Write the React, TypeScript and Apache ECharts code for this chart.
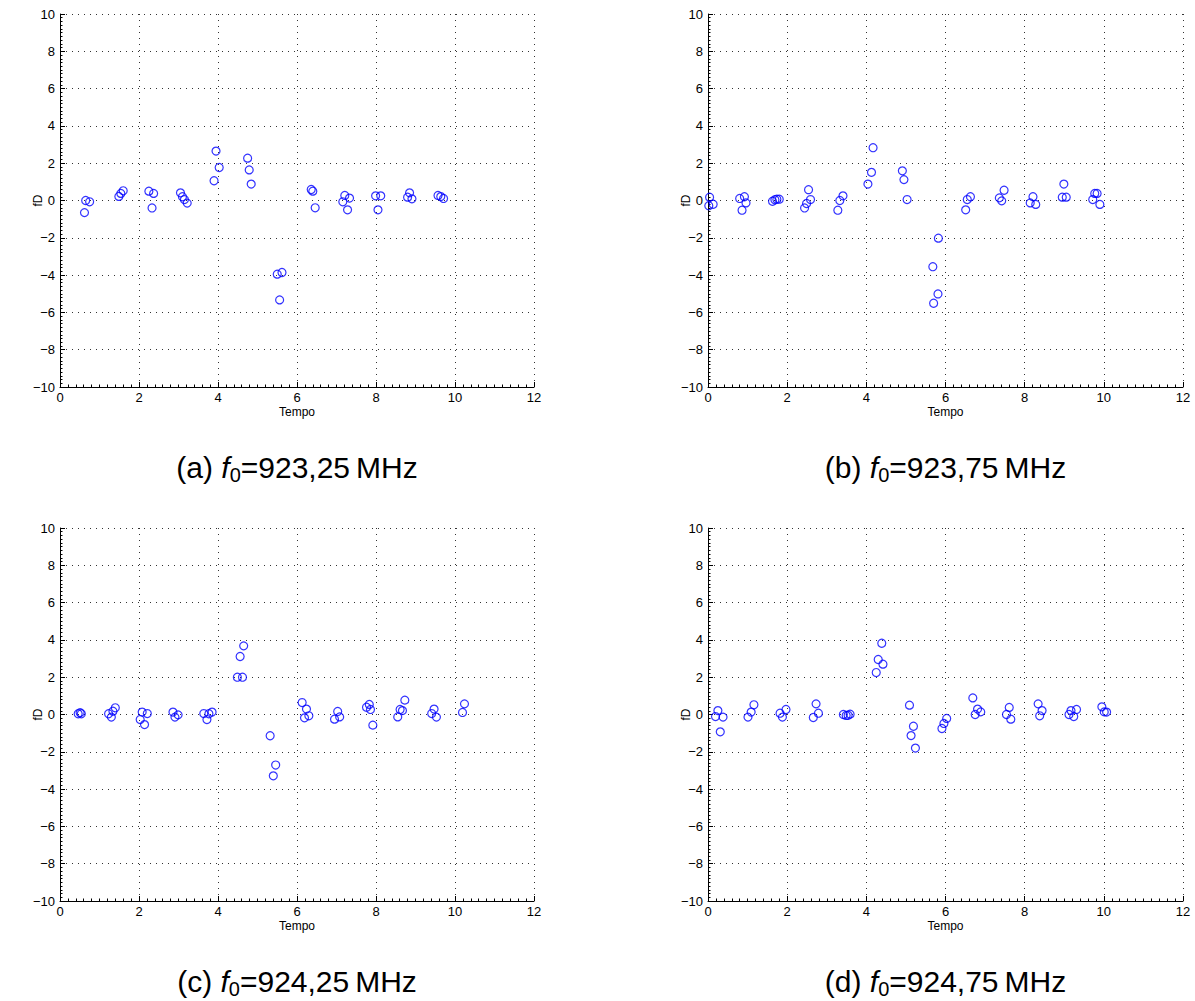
import React, { useEffect, useRef } from "react";
import * as echarts from "echarts";

// Panel (a) f0 = 923,25 MHz
const tempoA = [0.62, 0.65, 0.75, 1.49, 1.54, 1.6, 2.25, 2.37, 2.33, 3.05, 3.1, 3.15, 3.22, 3.9, 3.95, 4.03, 4.75, 4.79, 4.84, 5.5, 5.62, 5.56, 6.36, 6.4, 6.46, 7.21, 7.33, 7.16, 7.28, 7.99, 8.12, 8.05, 8.85, 8.8, 8.91, 9.57, 9.64, 9.71];
const fdA = [-0.65, 0.0, -0.07, 0.22, 0.38, 0.52, 0.5, 0.38, -0.4, 0.41, 0.2, 0.05, -0.14, 1.06, 2.65, 1.77, 2.27, 1.64, 0.88, -3.95, -3.86, -5.33, 0.59, 0.5, -0.39, 0.27, 0.13, -0.07, -0.5, 0.25, 0.25, -0.5, 0.41, 0.18, 0.09, 0.27, 0.21, 0.11];

// Panel (b) f0 = 923,75 MHz
const tempoB = [0.02, 0.04, 0.13, 0.8, 0.92, 0.86, 0.96, 1.63, 1.69, 1.74, 1.8, 2.44, 2.49, 2.54, 2.59, 3.28, 3.33, 3.41, 4.04, 4.13, 4.17, 4.91, 4.95, 5.03, 5.82, 5.68, 5.81, 5.7, 6.51, 6.55, 6.63, 7.36, 7.42, 7.48, 8.14, 8.21, 8.28, 8.99, 8.95, 9.05, 9.72, 9.77, 9.83, 9.9];
const fdB = [-0.28, 0.18, -0.2, 0.11, 0.2, -0.52, -0.13, -0.04, 0.04, 0.07, 0.07, -0.4, -0.16, 0.58, 0.05, -0.52, 0.0, 0.25, 0.88, 1.51, 2.83, 1.59, 1.12, 0.05, -2.02, -3.55, -5.01, -5.51, -0.5, 0.05, 0.2, 0.14, -0.02, 0.55, -0.13, 0.2, -0.21, 0.88, 0.18, 0.18, 0.05, 0.38, 0.38, -0.21];

// Panel (c) f0 = 924,25 MHz
const tempoC = [0.46, 0.51, 0.54, 1.23, 1.3, 1.34, 1.4, 2.03, 2.08, 2.14, 2.21, 2.86, 2.91, 2.99, 3.64, 3.72, 3.77, 3.85, 4.49, 4.62, 4.56, 4.65, 5.32, 5.4, 5.46, 6.13, 6.24, 6.3, 6.19, 6.95, 7.03, 7.08, 7.76, 7.83, 7.86, 7.92, 8.55, 8.61, 8.67, 8.73, 9.41, 9.47, 9.53, 10.19, 10.24];
const fdC = [0.04, 0.1, 0.04, 0.04, -0.14, 0.18, 0.36, -0.27, 0.13, -0.54, 0.05, 0.13, -0.14, -0.02, 0.05, -0.27, 0.04, 0.13, 2.0, 2.0, 3.11, 3.68, -1.14, -3.29, -2.71, 0.64, 0.29, -0.07, -0.18, -0.25, 0.16, -0.13, 0.39, 0.54, 0.27, -0.57, -0.13, 0.27, 0.21, 0.77, 0.05, 0.29, -0.14, 0.11, 0.57];

// Panel (d) f0 = 924,75 MHz
const tempoD = [0.19, 0.25, 0.31, 0.38, 1.01, 1.09, 1.16, 1.82, 1.88, 1.97, 2.66, 2.73, 2.79, 3.42, 3.49, 3.54, 3.59, 4.25, 4.3, 4.42, 4.39, 5.09, 5.13, 5.19, 5.24, 5.91, 5.96, 6.03, 6.69, 6.75, 6.81, 6.89, 7.54, 7.61, 7.65, 8.34, 8.38, 8.44, 9.12, 9.17, 9.24, 9.31, 9.95, 10.01, 10.07];
const fdD = [-0.11, 0.21, -0.93, -0.14, -0.14, 0.13, 0.52, 0.07, -0.14, 0.27, -0.16, 0.57, 0.07, 0.0, -0.05, -0.04, 0.02, 2.25, 2.95, 2.7, 3.82, 0.5, -1.13, -0.63, -1.8, -0.75, -0.48, -0.21, 0.89, 0.0, 0.29, 0.14, 0.0, 0.38, -0.25, 0.57, -0.07, 0.21, 0.0, 0.21, -0.11, 0.27, 0.41, 0.14, 0.13];

const captionLetters = ["(a)", "(b)", "(c)", "(d)"];
const captionFreqs = ["923,25", "923,75", "924,25", "924,75"];
const xTicks = { min: 0, max: 12, interval: 2 };
const yTicks = { min: -10, max: 10, interval: 2 };

const panels = [
  { x: tempoA, y: fdA },
  { x: tempoB, y: fdB },
  { x: tempoC, y: fdC },
  { x: tempoD, y: fdD },
];

const gridBoxes = [
  { left: 60, top: 14, width: 474, height: 373 },
  { left: 708, top: 14, width: 475, height: 373 },
  { left: 60, top: 528, width: 474, height: 373 },
  { left: 708, top: 528, width: 475, height: 373 },
];

const FONT = "'Liberation Sans', Arial, Helvetica, sans-serif";
const minus = (v: number) => String(v).replace("-", "\u2212");

export default function App() {
  const ref = useRef<HTMLDivElement>(null);
  useEffect(() => {
    if (!ref.current) return;
    const chart = echarts.init(ref.current, undefined, { renderer: "svg" });
    const axisCommon = {
      axisLine: { show: true, onZero: false, lineStyle: { color: "#000", width: 1 } },
      axisTick: { show: true, inside: true, length: 5, lineStyle: { color: "#000" } },
      minorTick: { show: true, splitNumber: 10, length: 2.5, lineStyle: { color: "#000" } },
      splitLine: {
        show: true,
        showMinLine: true,
        showMaxLine: true,
        lineStyle: { color: "#333", type: [1, 5], width: 1 },
      },
      axisLabel: { color: "#000", fontSize: 13, fontFamily: FONT, formatter: minus },
      nameTextStyle: { color: "#000", fontSize: 12, fontFamily: FONT },
      nameMoveOverlap: false,
    };
    const option: any = {
      animation: false,
      backgroundColor: "#fff",
      grid: gridBoxes.map((g) => ({ ...g, containLabel: false })),
      xAxis: gridBoxes.map((_, i) => ({
        ...axisCommon,
        type: "value",
        gridIndex: i,
        min: xTicks.min,
        max: xTicks.max,
        interval: xTicks.interval,
        name: "Tempo",
        nameLocation: "middle",
        nameGap: 19,
        axisLabel: { ...axisCommon.axisLabel, margin: 4 },
      })),
      yAxis: gridBoxes.map((_, i) => ({
        ...axisCommon,
        type: "value",
        gridIndex: i,
        min: yTicks.min,
        max: yTicks.max,
        interval: yTicks.interval,
        name: "fD",
        nameLocation: "middle",
        nameGap: 16,
        nameRotate: 90,
        axisLabel: { ...axisCommon.axisLabel, margin: 5 },
      })),
      series: panels.map((p, i) => ({
        type: "scatter",
        xAxisIndex: i,
        yAxisIndex: i,
        symbol: "circle",
        symbolSize: 8,
        itemStyle: { color: "rgba(0,0,0,0)", borderColor: "#0000ff", borderWidth: 1.2 },
        data: p.x.map((xv, k) => [xv, p.y[k]]),
      })),
      graphic: gridBoxes.map((g, i) => ({
        type: "text",
        x: g.left + g.width / 2,
        y: i < 2 ? 467 : 981,
        style: {
          text: `{n|${captionLetters[i]} }{i|f}{s|0}{n|=${captionFreqs[i]}\u2009MHz}`,
          align: "center",
          verticalAlign: "middle",
          rich: {
            n: { fontSize: 30, fontFamily: FONT, fill: "#000", lineHeight: 36, verticalAlign: "middle" },
            i: { fontSize: 30, fontFamily: FONT, fontStyle: "italic", fill: "#000", lineHeight: 36, verticalAlign: "middle" },
            s: { fontSize: 20, fontFamily: FONT, fill: "#000", lineHeight: 17, verticalAlign: "bottom" },
          },
        },
      })),
    };
    chart.setOption(option);
    return () => chart.dispose();
  }, []);
  return (
    <div
      ref={ref}
      style={{ position: "fixed", left: 0, top: 0, width: 1195, height: 1001, background: "#fff" }}
    />
  );
}
